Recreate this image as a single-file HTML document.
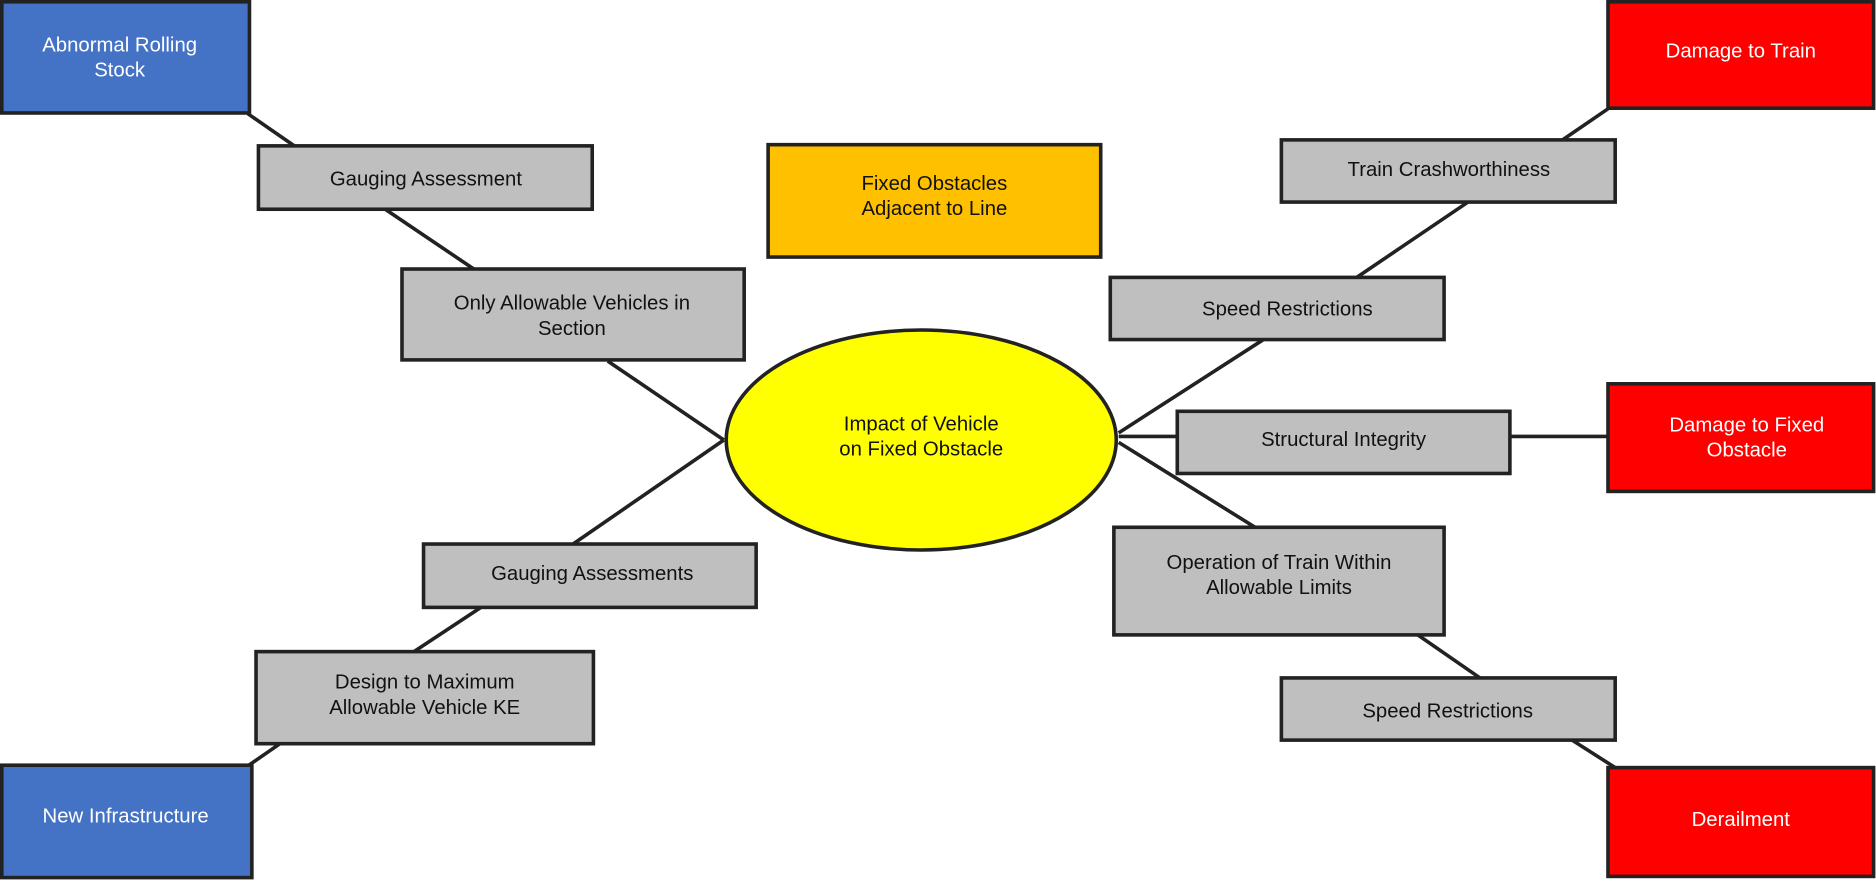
<!DOCTYPE html>
<html><head><meta charset="utf-8"><style>
html,body{margin:0;padding:0;background:#fff;}
svg{display:block;}
text{font-family:"Liberation Sans",sans-serif;font-size:17px;fill:#111;text-anchor:middle;}
.w{fill:#fff;}
</style></head><body>
<svg width="1876" height="880" viewBox="0 0 1568 736" preserveAspectRatio="none" xmlns="http://www.w3.org/2000/svg">
<g stroke="#222" stroke-width="3" fill="none">
<line x1="207" y1="95" x2="246" y2="122"/>
<line x1="322" y1="175" x2="396" y2="225"/>
<line x1="508" y1="302" x2="605" y2="368"/>
<line x1="605" y1="368" x2="479" y2="455"/>
<line x1="402" y1="508" x2="346" y2="545"/>
<line x1="234" y1="622" x2="208" y2="640"/>
<line x1="1306" y1="117" x2="1344" y2="91"/>
<line x1="1227" y1="169" x2="1134" y2="232"/>
<line x1="1056" y1="284" x2="935" y2="362"/>
<line x1="935" y1="365" x2="984" y2="365"/>
<line x1="1262" y1="365" x2="1344" y2="365"/>
<line x1="935" y1="370" x2="1049" y2="441"/>
<line x1="1185" y1="531" x2="1237" y2="567"/>
<line x1="1314" y1="619" x2="1350" y2="642"/>
</g>
<g stroke="#222" stroke-width="3">
<rect x="1.5" y="1.5" width="207" height="93" fill="#4472C4"/>
<rect x="1.5" y="640" width="209" height="94" fill="#4472C4"/>
<rect x="1344" y="1.5" width="222" height="89" fill="#FF0000"/>
<rect x="1344" y="321" width="222" height="90" fill="#FF0000"/>
<rect x="1344" y="642" width="222" height="91" fill="#FF0000"/>
<rect x="642" y="121" width="278" height="94" fill="#FFC000"/>
<g fill="#BFBFBF">
<rect x="216" y="122" width="279" height="53"/>
<rect x="336" y="225" width="286" height="76"/>
<rect x="354" y="455" width="278" height="53"/>
<rect x="214" y="545" width="282" height="77"/>
<rect x="1071" y="117" width="279" height="52"/>
<rect x="928" y="232" width="279" height="52"/>
<rect x="984" y="344" width="278" height="52"/>
<rect x="931" y="441" width="276" height="90"/>
<rect x="1071" y="567" width="279" height="52"/>
</g>
<ellipse cx="770" cy="368" rx="163" ry="92" fill="#FFFF00"/>
</g>
<text class="w" x="100" y="43">Abnormal Rolling</text>
<text class="w" x="100" y="64">Stock</text>
<text class="w" x="105" y="688">New Infrastructure</text>
<text class="w" x="1455" y="48">Damage to Train</text>
<text class="w" x="1460" y="361">Damage to Fixed</text>
<text class="w" x="1460" y="382">Obstacle</text>
<text class="w" x="1455" y="691">Derailment</text>
<text x="781" y="159">Fixed Obstacles</text>
<text x="781" y="180">Adjacent to Line</text>
<text x="356" y="155">Gauging Assessment</text>
<text x="478" y="259">Only Allowable Vehicles in</text>
<text x="478" y="280">Section</text>
<text x="495" y="485">Gauging Assessments</text>
<text x="355" y="576">Design to Maximum</text>
<text x="355" y="597">Allowable Vehicle KE</text>
<text x="770" y="360">Impact of Vehicle</text>
<text x="770" y="381">on Fixed Obstacle</text>
<text x="1211" y="147">Train Crashworthiness</text>
<text x="1076" y="264">Speed Restrictions</text>
<text x="1123" y="373">Structural Integrity</text>
<text x="1069" y="476">Operation of Train Within</text>
<text x="1069" y="497">Allowable Limits</text>
<text x="1210" y="600">Speed Restrictions</text>
</svg>
</body></html>
